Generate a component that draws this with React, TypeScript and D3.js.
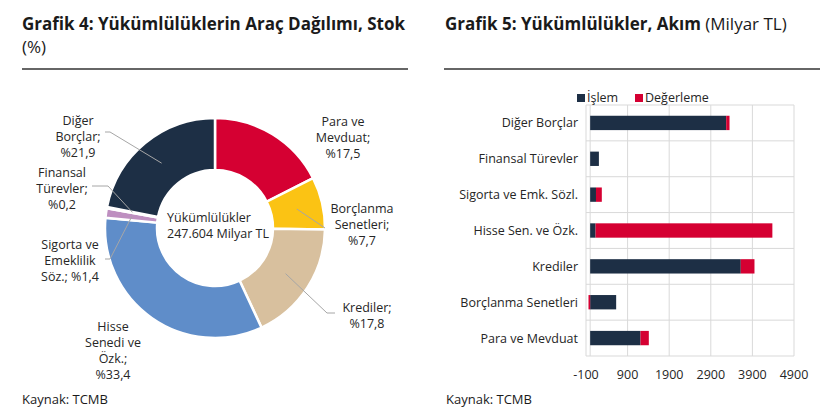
import React from 'react';
import * as d3 from 'd3';

// Grafik 4: stock distribution (%), clockwise from 12 o'clock
const sliceNames = ['Para ve Mevduat', 'Borçlanma Senetleri', 'Krediler', 'Hisse Senedi ve Özk.', 'Sigorta ve Emeklilik Söz.', 'Finansal Türevler', 'Diğer Borçlar'];
const sliceShares = [17.5, 7.7, 17.8, 33.4, 1.4, 0.2, 21.9];
const sliceColors = ['#D50032', '#FBC314', '#D8C09E', '#5F8DC9', '#BE8FC0', '#9A9A9A', '#1D2F45'];
const sliceLabels = [
  ['Para ve', 'Mevduat;', '%17,5'],
  ['Borçlanma', 'Senetleri;', '%7,7'],
  ['Krediler;', '%17,8'],
  ['Hisse', 'Senedi ve', 'Özk.;', '%33,4'],
  ['Sigorta ve', 'Emeklilik', 'Söz.; %1,4'],
  ['Finansal', 'Türevler;', '%0,2'],
  ['Diğer', 'Borçlar;', '%21,9'],
];
const totalLabel = ['Yükümlülükler', '247.604 Milyar TL'];

// Grafik 5: flows (Milyar TL)
const flowCategories = ['Diğer Borçlar', 'Finansal Türevler', 'Sigorta ve Emk. Sözl.', 'Hisse Sen. ve Özk.', 'Krediler', 'Borçlanma Senetleri', 'Para ve Mevduat'];
const islem = [3270, 210, 140, 130, 3620, 625, 1210];
const degerleme = [80, 0, 140, 4250, 330, -40, 200];
const flowTicks = [-100, 900, 1900, 2900, 3900, 4900];
const seriesNames = ['İşlem', 'Değerleme'];
const seriesColors = ['#1D2F45', '#D50032'];

const FONT = '"Open Sans", sans-serif';

// label placement, relative to the donut centre (first line centre, optional leader elbow)
const labelLayout = [
  { x: 128, y: -107 },
  { x: 147, y: -20, leader: [[110, 0]] },
  { x: 152, y: 79, leader: [[112, 85], [120, 85]] },
  { x: -102, y: 98 },
  { x: -145, y: 16, leader: [[-105, 31], [-110, 31]] },
  { x: -153, y: -56, leader: [[-107, -42], [-123, -42]] },
  { x: -137, y: -108, leader: [[-105, -96], [-110, -96]] },
];

function Donut() {
  const cx = 215, cy = 228, outer = 110, inner = 58, lineH = 16;
  const pie = d3.pie<number>().sort(null).value(d => d)(sliceShares);
  const arc = d3.arc<d3.PieArcDatum<number>>().innerRadius(inner).outerRadius(outer);
  return (
    <g transform={`translate(${cx},${cy})`}>
      {pie.map((p, i) => (
        <path key={sliceNames[i]} d={arc(p) || ''} fill={sliceColors[i]} stroke="#fff" strokeWidth={2.5} />
      ))}
      {pie.map((p, i) => {
        const l = labelLayout[i];
        if (!l.leader) return null;
        const c = arc.centroid(p);
        const pts = [c, ...l.leader] as [number, number][];
        return <path key={'l' + i} d={d3.line()(pts) || ''} fill="none" stroke="#A6A6A6" strokeWidth={1} />;
      })}
      {sliceLabels.map((lines, i) => (
        <text key={'t' + i} textAnchor="middle" fontFamily={FONT} fontSize={12.5} fill="#262626">
          {lines.map((s, j) => (
            <tspan key={j} x={labelLayout[i].x} y={labelLayout[i].y + j * lineH + 4.5}>{s}</tspan>
          ))}
        </text>
      ))}
      <text fontFamily={FONT} fontSize={12.5} fill="#262626">
        {totalLabel.map((s, j) => (
          <tspan key={j} x={-48} y={-11 + j * 16 + 4.5}>{s}</tspan>
        ))}
      </text>
    </g>
  );
}

function Bars() {
  const x = d3.scaleLinear().domain([-100, 4900]).range([586, 794]);
  const y = d3.scaleBand<string>().domain(flowCategories).range([105, 356]).padding(0);
  const rows = flowCategories.map((c, i) => ({ cat: c, islem: islem[i], degerleme: degerleme[i] }));
  const stack = d3.stack<any>().keys(['islem', 'degerleme']).offset(d3.stackOffsetDiverging)(rows);
  const bw = y.bandwidth();
  const bh = bw * 0.4;
  const grid = '#D9D9D9';
  return (
    <g>
      {flowTicks.map(t => (
        <line key={t} x1={x(t)} x2={x(t)} y1={105} y2={356} stroke={grid} strokeWidth={1} />
      ))}
      {[...flowCategories.map(c => y(c)!), 356].map((v, i) => (
        <line key={'h' + i} x1={586} x2={794} y1={v} y2={v} stroke={grid} strokeWidth={1} />
      ))}
      <line x1={x(0)} x2={x(0)} y1={105} y2={356} stroke={grid} strokeWidth={1} />
      {stack.map((s, k) => (
        <g key={s.key} fill={seriesColors[k]}>
          {s.map(d => (
            <rect key={d.data.cat} x={x(Math.min(d[0], d[1]))} width={Math.abs(x(d[1]) - x(d[0]))}
              y={y(d.data.cat)! + (bw - bh) / 2} height={bh} />
          ))}
        </g>
      ))}
      {flowCategories.map(c => (
        <text key={c} x={578} y={y(c)! + bw / 2 + 4.5} textAnchor="end" fontFamily={FONT} fontSize={12.5} fill="#262626">{c}</text>
      ))}
      {flowTicks.map(t => (
        <text key={'t' + t} x={x(t)} y={379} textAnchor="middle" fontFamily={FONT} fontSize={12.5} fill="#262626">{t}</text>
      ))}
      {seriesNames.map((n, k) => {
        const lx = [577, 635][k];
        return (
          <g key={n}>
            <rect x={lx} y={94} width={8} height={8} fill={seriesColors[k]} />
            <text x={lx + 10} y={102} fontFamily={FONT} fontSize={12.5} fill="#262626">{n}</text>
          </g>
        );
      })}
    </g>
  );
}

export default function App() {
  return (
    <svg width={820} height={419} style={{ position: 'absolute', left: 0, top: 0, background: '#fff' }}>
      <rect width={820} height={419} fill="#fff" />
      <text x={22} y={30} fontFamily={FONT} fontSize={17} fontWeight={700} fill="#1a1a1a">Grafik 4: Yükümlülüklerin Araç Dağılımı, Stok</text>
      <text x={22} y={53} fontFamily={FONT} fontSize={17} fill="#1a1a1a">(%)</text>
      <line x1={22} x2={408} y1={69} y2={69} stroke="#333" strokeWidth={1.5} />
      <text x={445} y={30} fontFamily={FONT} fontSize={17} fill="#1a1a1a">
        <tspan fontWeight={700}>Grafik 5: Yükümlülükler, Akım</tspan>
        <tspan> (Milyar TL)</tspan>
      </text>
      <line x1={444} x2={820} y1={69} y2={69} stroke="#333" strokeWidth={1.5} />
      <Donut />
      <Bars />
      <text x={22} y={404} fontFamily={FONT} fontSize={13} fill="#1a1a1a">Kaynak: TCMB</text>
      <text x={446} y={404} fontFamily={FONT} fontSize={13} fill="#1a1a1a">Kaynak: TCMB</text>
    </svg>
  );
}
